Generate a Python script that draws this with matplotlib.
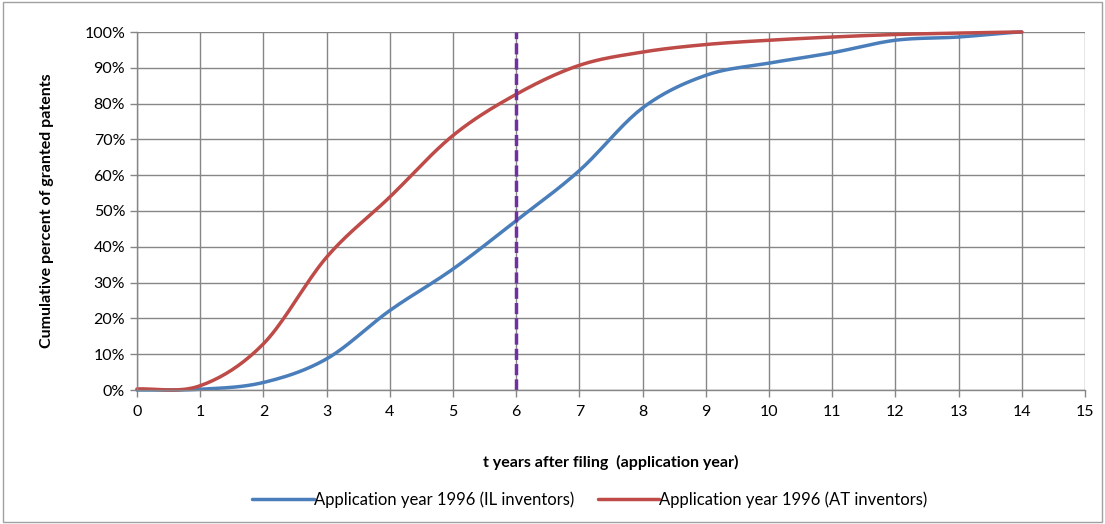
import numpy as np
import matplotlib
matplotlib.use("Agg")
import matplotlib.pyplot as plt
from matplotlib.ticker import FuncFormatter

plt.rcParams['font.family'] = ['Lato', 'DejaVu Sans']

years = [0, 1, 2, 3, 4, 5, 6, 7, 8, 9, 10, 11, 12, 13, 14]
il_values = [0.0, 0.2, 2.1, 8.7, 22.2, 33.8, 47.3, 61.3, 78.8, 87.9, 91.3, 94.2, 97.7, 98.6, 100.0]
at_values = [0.3, 1.2, 12.9, 37.1, 53.9, 71.1, 82.6, 90.7, 94.4, 96.5, 97.7, 98.6, 99.3, 99.7, 100.0]
il_label = "Application year 1996 (IL inventors)"
at_label = "Application year 1996 (AT inventors)"
marker_year = 6
xticks = list(range(0, 16))
yticks = list(range(0, 101, 10))


def smooth(x, y, n=20):
    # Catmull-Rom style smoothing (like a spreadsheet "smoothed line")
    x = np.asarray(x, float)
    y = np.asarray(y, float)
    px = np.concatenate([[2 * x[0] - x[1]], x, [2 * x[-1] - x[-2]]])
    py = np.concatenate([[y[0]], y, [y[-1]]])
    xs, ys = [], []
    t = np.linspace(0, 1, n, endpoint=False)
    for i in range(1, len(px) - 2):
        p0, p1, p2, p3 = (np.array([px[j], py[j]]) for j in range(i - 1, i + 3))
        b1 = p1 + (p2 - p0) / 6
        b2 = p2 - (p3 - p1) / 6
        pts = ((1 - t) ** 3)[:, None] * p1 + (3 * (1 - t) ** 2 * t)[:, None] * b1 + \
              (3 * (1 - t) * t ** 2)[:, None] * b2 + (t ** 3)[:, None] * p2
        xs.extend(pts[:, 0]); ys.extend(pts[:, 1])
    xs.append(x[-1]); ys.append(y[-1])
    return np.array(xs), np.array(ys)


fig = plt.figure(figsize=(11.05, 5.24), dpi=100)
ax = fig.add_axes([137 / 1105, 1 - 390 / 524, (1085 - 137) / 1105, (390 - 32) / 524])

grid_c = '#868686'
ax.set_xlim(0, 15)
ax.set_ylim(0, 100)
ax.set_xticks(xticks)
ax.set_yticks(yticks)
ax.yaxis.set_major_formatter(FuncFormatter(lambda v, p: f"{int(v)}%"))
ax.grid(True, color=grid_c, linewidth=1.0)
ax.set_axisbelow(True)
for s in ['top', 'right']:
    ax.spines[s].set_visible(False)
for s in ['left', 'bottom']:
    ax.spines[s].set_color(grid_c)
    ax.spines[s].set_linewidth(1.0)
ax.tick_params(axis='both', colors=grid_c, length=5, width=1, labelcolor='black', labelsize=11.5)
ax.tick_params(axis='x', pad=6)

xs, ys = smooth(years, il_values)
ax.plot(xs, ys, color='#4A7EBB', lw=2.5, label=il_label, solid_capstyle='round', clip_on=False)
xs, ys = smooth(years, at_values)
ax.plot(xs, ys, color='#BE4B48', lw=2.5, label=at_label, solid_capstyle='round', clip_on=False)

ax.axvline(marker_year, color='#7030A0', lw=2.5, linestyle=(0, (3.2, 1.2)))

ax.set_xlabel("t years after filing  (application year)", fontsize=11.5, fontweight='bold', labelpad=26)
ax.set_ylabel("Cumulative percent of granted patents", fontsize=11.5, fontweight='bold', labelpad=22)

leg = fig.legend(handles=ax.get_lines()[:2], loc='center', bbox_to_anchor=(590 / 1105, 1 - 500 / 524),
                 ncol=2, frameon=False, fontsize=12, handlelength=3.7, handletextpad=0.0,
                 columnspacing=1.4)

border = plt.Rectangle((3 / 1105, 2 / 524), 1099 / 1105, 520 / 524, transform=fig.transFigure,
                       fill=False, edgecolor='#A0A0A0', lw=1)
fig.patches.append(border)

fig.savefig("out.png", dpi=100)
